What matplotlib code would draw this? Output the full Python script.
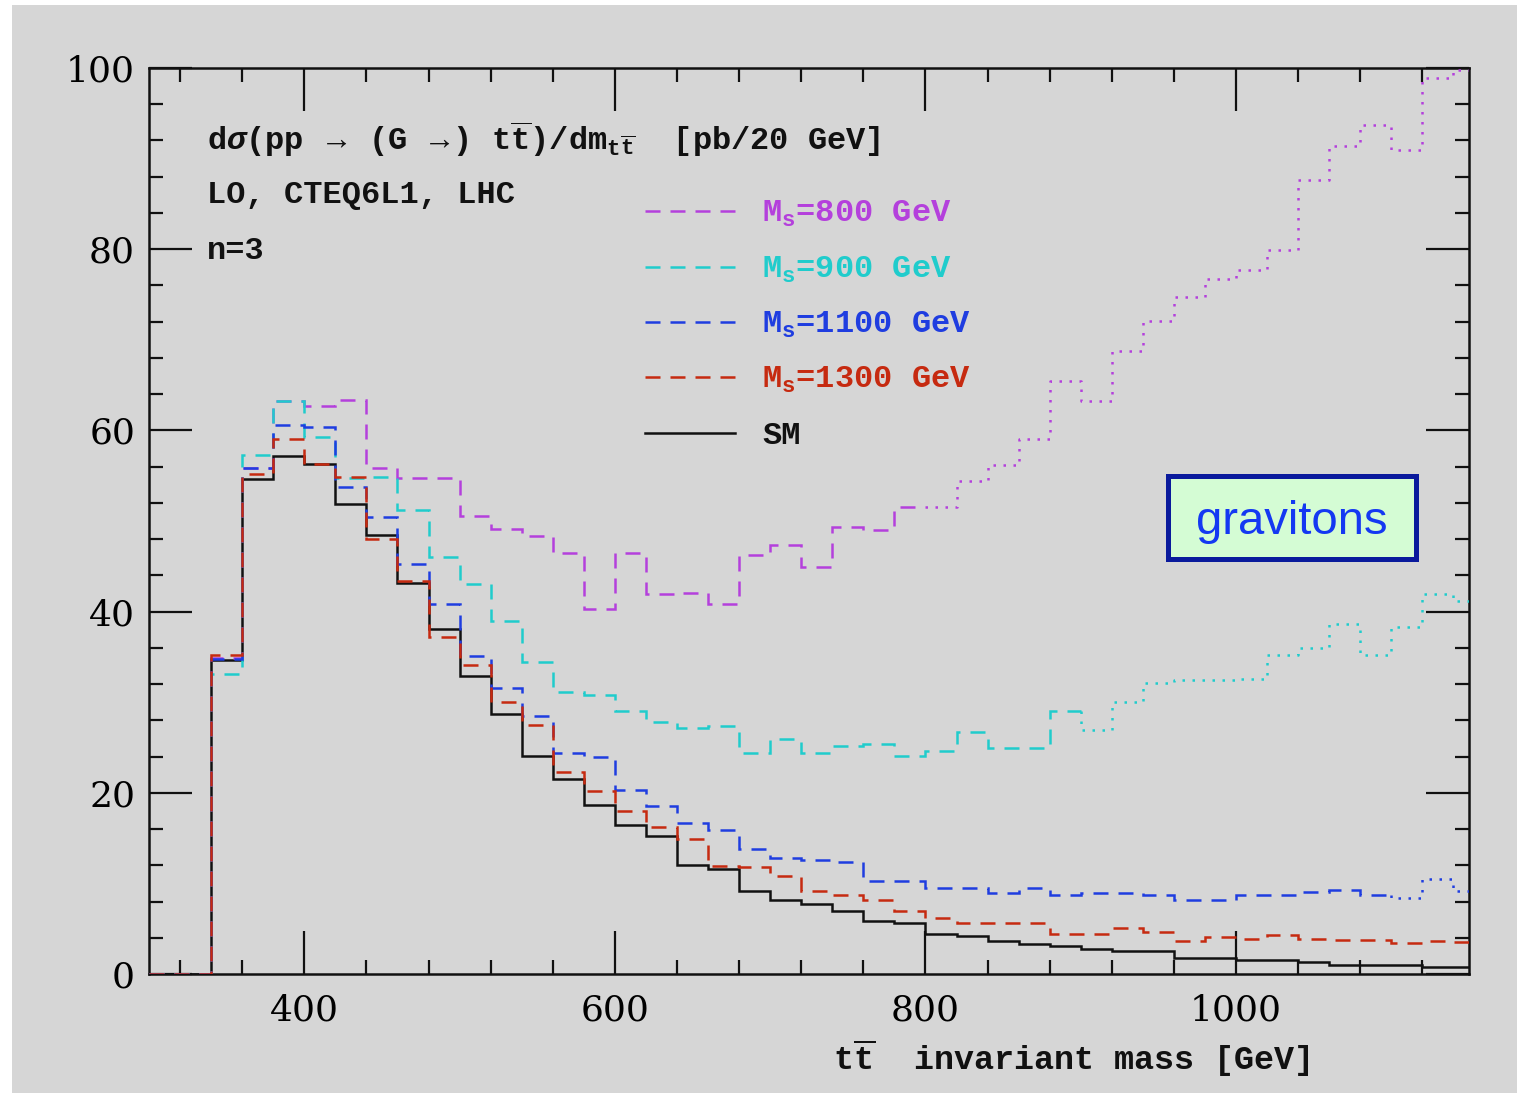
import numpy as np
import matplotlib
matplotlib.use("Agg")
import matplotlib.pyplot as plt
from matplotlib.patches import Rectangle
from matplotlib.lines import Line2D
from matplotlib.ticker import MultipleLocator, FixedLocator

plt.rcParams["font.family"] = ["Liberation Mono", "DejaVu Sans Mono"]
plt.rcParams["font.weight"] = "bold"
plt.rcParams["mathtext.fontset"] = "custom"
plt.rcParams["mathtext.rm"] = "Liberation Mono:bold"
plt.rcParams["mathtext.it"] = "Liberation Mono:italic:bold"
plt.rcParams["mathtext.bf"] = "Liberation Mono:bold"

# 20 GeV bins in the t-tbar invariant mass [GeV]
edges = np.arange(300, 1161, 20)

# d sigma / d m_tt [pb / 20 GeV], one value per bin
sm = [0, 0, 34.7, 54.65, 57.2, 56.3, 51.9, 48.4, 43.2, 38.1, 32.85, 28.7, 24.1,
      21.55, 18.7, 16.4, 15.2, 12.05, 11.6, 9.2, 8.2, 7.7, 6.9, 5.9, 5.6, 4.4,
      4.15, 3.6, 3.35, 3.05, 2.8, 2.5, 2.5, 1.75, 1.75, 1.6, 1.6, 1.3, 0.96,
      0.96, 0.96, 0.73, 0.73]
ms1300 = [0, 0, 35.2, 55.2, 59.0, 56.3, 54.9, 48.0, 43.4, 37.2, 34.1, 30.0, 27.5,
          22.35, 20.25, 17.95, 16.2, 14.9, 11.95, 11.8, 10.8, 9.2, 8.7, 8.2, 6.9,
          6.15, 5.6, 5.6, 5.6, 4.4, 4.4, 5.1, 4.6, 3.6, 4.05, 3.9, 4.3, 3.9, 3.7,
          3.75, 3.4, 3.6, 3.5]
ms1100 = [0, 0, 34.8, 55.8, 60.6, 60.35, 53.7, 50.4, 45.2, 40.8, 35.15, 31.6, 28.5,
          24.4, 23.9, 20.3, 18.5, 16.7, 15.9, 13.8, 12.8, 12.6, 12.35, 10.25, 10.25,
          9.5, 9.5, 8.9, 9.5, 8.75, 8.9, 8.9, 8.7, 8.2, 8.2, 8.7, 8.7, 9.05, 9.25,
          8.7, 8.4, 10.5, 9.2]
ms900 = [0, 0, 33.1, 57.3, 63.2, 59.3, 54.7, 54.9, 51.2, 46.0, 43.1, 39.0, 34.4,
         31.1, 30.8, 29.0, 27.8, 27.2, 27.4, 24.4, 25.9, 24.4, 25.2, 25.4, 24.1,
         24.6, 26.7, 24.9, 24.9, 29.0, 26.95, 30.0, 32.1, 32.4, 32.4, 32.6, 35.2,
         35.95, 38.6, 35.2, 38.3, 41.9, 41.2]
ms800 = [0, 0, 34.9, 55.8, 63.2, 62.7, 63.4, 55.9, 54.7, 54.7, 50.6, 49.1, 48.3,
         46.45, 40.3, 46.45, 41.95, 42.1, 40.8, 46.2, 47.3, 44.9, 49.3, 49.0, 51.6,
         51.6, 54.4, 56.2, 59.0, 65.5, 63.2, 68.8, 72.1, 74.7, 76.7, 77.75, 79.9,
         87.6, 91.4, 93.7, 90.9, 98.9, 99.75]

scale_masses = [800, 900, 1100, 1300]
graviton_values = [ms800, ms900, ms1100, ms1300]
graviton_colors = ["#b440dc", "#20cccc", "#1f3de0", "#c62a10"]
sm_color = "#111111"

x_ticks = [400, 600, 800, 1000]
y_ticks = [0, 20, 40, 60, 80, 100]

W, H, DPI = 1517, 1098, 100
fig = plt.figure(figsize=(W / DPI, H / DPI), dpi=DPI, facecolor="white")
bg = "#d6d6d6"
fig.patches.append(Rectangle((12 / W, 5 / H), 1 - 12 / W, 1088 / H,
                             transform=fig.transFigure, facecolor=bg,
                             edgecolor="none", zorder=-10))

ax = fig.add_axes([149 / W, 1 - 974 / H, 1320 / W, 906 / H])
ax.set_facecolor(bg)

LW = 1.8
DASH = (0, (6, 4))
DOT = (0, (1, 3))


def draw_hist(values, color, split, z):
    """Dashed below the scale M_s, dotted above it."""
    v = np.asarray(values, dtype=float)
    k = min(int(np.searchsorted(edges, split)), len(v))
    ax.stairs(v[:k], edges[:k + 1], baseline=None, color=color,
              lw=LW, linestyle=DASH, zorder=z)
    if k < len(v):
        xs = np.concatenate([[edges[k]], edges[k:]])
        ys = np.concatenate([[v[k - 1]], v[k:], [v[-1]]])
        ax.plot(xs, ys, drawstyle="steps-post", color=color, lw=LW,
                linestyle=DOT, zorder=z)


ax.stairs(sm, edges, baseline=None, color=sm_color, lw=LW, zorder=3)
for i, (m, vals, col) in enumerate(zip(scale_masses, graviton_values,
                                       graviton_colors)):
    draw_hist(vals, col, m, 4 + i)

leg_handles = [Line2D([], [], color=c, lw=LW, linestyle=DASH) for c in graviton_colors]
leg_handles.append(Line2D([], [], color=sm_color, lw=LW))
leg_labels = [r"M$_{\rm s}$=%d GeV" % m for m in scale_masses] + ["SM"]
ax.legend(leg_handles, leg_labels, loc="upper left",
          bbox_to_anchor=(0.376, 0.855), frameon=False, fontsize=23,
          handlelength=2.8, handletextpad=0.85, labelspacing=0.79,
          labelcolor="linecolor", borderpad=0, borderaxespad=0)

ax.set_xlim(300, 1150)
ax.set_ylim(0, 100)
ax.xaxis.set_major_locator(FixedLocator(x_ticks))
ax.xaxis.set_minor_locator(FixedLocator([x for x in range(320, 1150, 40)
                                         if x not in x_ticks]))
ax.yaxis.set_major_locator(FixedLocator(y_ticks))
ax.yaxis.set_minor_locator(MultipleLocator(4))
ax.tick_params(which="both", direction="in", top=True, right=True,
               width=1.6, color="#111111")
ax.tick_params(which="major", length=31)
ax.tick_params(which="minor", length=10)
ax.tick_params(axis="x", which="major", pad=14)
ax.tick_params(axis="y", which="major", pad=10)
for lab in ax.get_xticklabels() + ax.get_yticklabels():
    lab.set_fontfamily(["DejaVu Serif"])
    lab.set_fontweight("normal")
    lab.set_fontsize(26)
for s in ax.spines.values():
    s.set_linewidth(1.8)
    s.set_color("#111111")

tkw = dict(transform=ax.transAxes, fontsize=23, color="#111111", ha="left",
           va="center")
ax.text(0.044, 0.922,
        r"d$\sigma$(pp $\rightarrow$ (G $\rightarrow$) t$\overline{\rm t}$)/dm$_{\rm t\overline{t}}$  [pb/20 GeV]",
        **tkw)
ax.text(0.044, 0.86, "LO, CTEQ6L1, LHC", **tkw)
ax.text(0.044, 0.798, "n=3", **tkw)

fig.text(1310 / W, 1 - 1058 / H, r"t$\overline{\rm t}$  invariant mass [GeV]",
         fontsize=24, ha="right", va="center", color="#111111")

box = Rectangle((0.772, 0.458), 0.188, 0.0917, transform=ax.transAxes,
                facecolor="#d4fcd4", edgecolor="#0a1a9c", lw=3.6, zorder=10)
ax.add_patch(box)
ax.text(0.866, 0.499, "gravitons", transform=ax.transAxes, fontsize=34,
        family=["Liberation Sans"], weight="normal", color="#1438f2",
        ha="center", va="center", zorder=11)

fig.savefig("out.png", dpi=DPI, facecolor=fig.get_facecolor())
